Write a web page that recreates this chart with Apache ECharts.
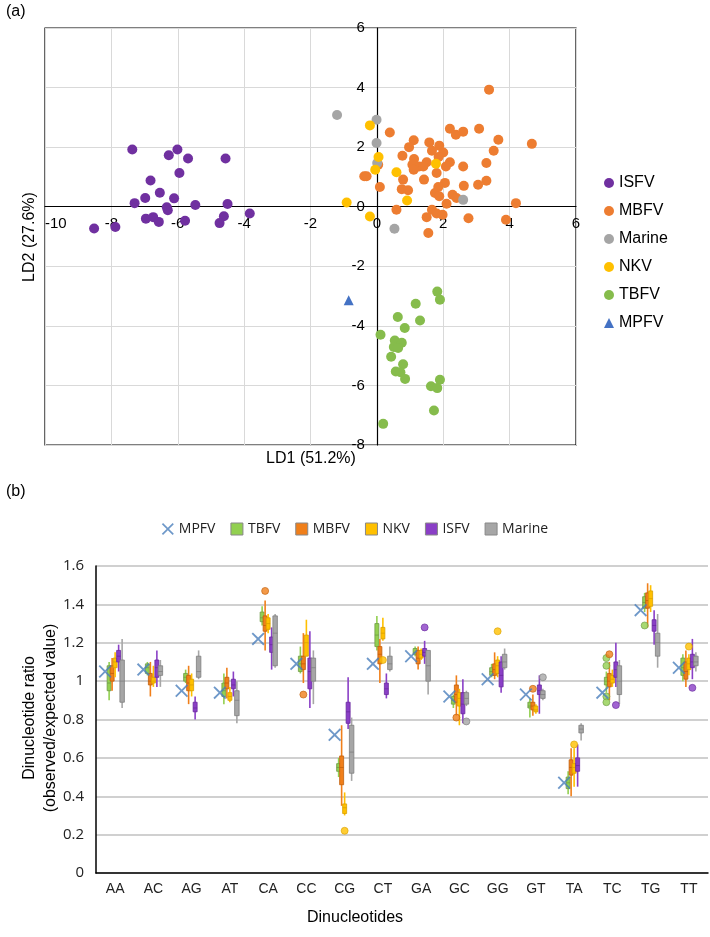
<!DOCTYPE html>
<html><head><meta charset="utf-8">
<script src="https://cdn.jsdelivr.net/npm/echarts@6/dist/echarts.min.js"></script>
<style>
body{margin:0;background:#fff;width:710px;height:937px;overflow:hidden}
#a{position:absolute;left:0;top:0;width:710px;height:480px}
#b{position:absolute;left:0;top:480px;width:710px;height:457px}
</style></head><body><div id="a"></div><div id="b"></div>
<script>
// ---------- (a) LDA scatter data: [LD1, LD2] ----------
const isfvLD = [[-7.37,1.92],[-6.01,1.92],[-6.27,1.73],[-5.69,1.62],[-4.56,1.62],[-5.95,1.13],[-6.82,0.88],[-6.54,0.47],[-6.98,0.29],[-6.11,0.28],[-7.30,0.12],[-5.47,0.06],[-4.50,0.09],[-6.33,-0.02],[-6.30,-0.12],[-6.96,-0.40],[-6.74,-0.35],[-6.57,-0.51],[-5.78,-0.47],[-4.61,-0.32],[-4.74,-0.55],[-3.83,-0.23],[-8.52,-0.73],[-7.88,-0.68]];
const mbfvLD = [[3.38,3.93],[0.39,2.49],[2.20,2.62],[2.38,2.42],[2.60,2.52],[3.08,2.62],[3.66,2.25],[4.67,2.11],[1.11,2.23],[0.97,2.00],[1.58,2.16],[1.88,2.05],[1.66,1.88],[2.00,1.82],[3.52,1.88],[0.77,1.71],[1.12,1.60],[1.86,1.67],[2.20,1.49],[1.50,1.49],[1.07,1.41],[1.27,1.35],[1.40,1.35],[1.11,1.24],[2.08,1.35],[2.60,1.35],[3.30,1.47],[1.80,1.13],[-0.38,1.02],[-0.31,1.02],[0.04,1.41],[0.79,0.91],[1.42,0.91],[2.05,0.80],[3.05,0.74],[3.30,0.87],[2.62,0.70],[0.09,0.66],[0.75,0.59],[0.94,0.55],[1.85,0.66],[1.75,0.46],[1.88,0.35],[2.28,0.40],[2.40,0.29],[2.10,0.10],[4.19,0.12],[0.59,-0.10],[1.66,-0.10],[1.80,-0.23],[1.98,-0.27],[1.50,-0.35],[2.76,-0.39],[3.89,-0.44],[1.55,-0.88]];
const marineLD = [[-1.20,3.08],[-0.01,2.92],[-0.01,2.14],[0.01,1.47],[2.60,0.23],[0.53,-0.74]];
const nkvLD = [[-0.21,2.73],[0.05,1.67],[-0.05,1.24],[0.59,1.16],[1.78,1.44],[0.91,0.21],[-0.91,0.14],[-0.21,-0.33]];
const tbfvLD = [[1.82,-2.85],[1.90,-3.12],[1.17,-3.26],[0.63,-3.70],[1.30,-3.82],[0.84,-4.07],[0.11,-4.30],[0.54,-4.49],[0.75,-4.57],[0.51,-4.71],[0.64,-4.74],[0.43,-5.04],[0.79,-5.29],[0.57,-5.53],[0.71,-5.56],[0.85,-5.78],[1.90,-5.81],[1.63,-6.03],[1.82,-6.09],[1.72,-6.84],[0.19,-7.29]];
const mpfvLD = [[-0.85,-3.14]];

// ---------- (b) dinucleotide ratio data ----------
const categories = ['AA','AC','AG','AT','CA','CC','CG','CT','GA','GC','GG','GT','TA','TC','TG','TT'];
const mpfvRatio = [1.05,1.06,0.95,0.94,1.22,1.09,0.72,1.09,1.13,0.92,1.01,0.93,0.47,0.94,1.37,1.07];
// [min, q1, median, q3, max]
const tbfvBox = [[0.90,0.95,0.99,1.08,1.10],[1.03,1.04,1.07,1.09,1.10],[0.99,1.00,1.02,1.04,1.06],[0.88,0.92,0.95,0.99,1.04],[1.29,1.31,1.33,1.36,1.39],[1.04,1.05,1.09,1.13,1.18],[0.50,0.53,0.55,0.57,0.60],[1.16,1.18,1.24,1.30,1.34],[1.13,1.14,1.15,1.17,1.18],[0.86,0.88,0.90,0.92,0.93],[1.02,1.03,1.05,1.07,1.09],[0.81,0.86,0.87,0.89,0.91],[0.41,0.44,0.47,0.50,0.53],[0.94,0.98,1.00,1.02,1.05],[1.36,1.38,1.41,1.44,1.46],[1.00,1.03,1.07,1.12,1.14]];
const mbfvBox = [[0.95,1.00,1.04,1.08,1.12],[0.92,0.98,1.00,1.04,1.10],[0.88,0.95,0.99,1.03,1.08],[0.91,0.96,0.99,1.02,1.07],[1.16,1.26,1.29,1.34,1.42],[0.99,1.06,1.09,1.13,1.25],[0.35,0.46,0.55,0.61,0.77],[0.99,1.09,1.14,1.18,1.22],[1.06,1.09,1.12,1.16,1.18],[0.82,0.89,0.93,0.98,1.03],[1.01,1.03,1.06,1.09,1.15],[0.82,0.85,0.87,0.89,0.93],[0.40,0.51,0.55,0.59,0.65],[0.90,0.97,1.00,1.04,1.10],[1.28,1.38,1.42,1.46,1.51],[0.97,1.01,1.05,1.10,1.16]];
const nkvBox = [[1.02,1.07,1.10,1.12,1.15],[0.97,0.99,1.00,1.02,1.08],[0.92,0.95,0.98,1.01,1.04],[0.89,0.90,0.92,0.94,0.97],[1.25,1.27,1.30,1.33,1.35],[1.13,1.13,1.20,1.24,1.32],[0.30,0.31,0.34,0.36,0.42],[1.21,1.22,1.25,1.28,1.33],[1.11,1.12,1.14,1.16,1.17],[0.77,0.87,0.91,0.94,0.96],[1.02,1.04,1.08,1.11,1.13],[0.83,0.84,0.85,0.87,0.88],[0.45,0.52,0.55,0.57,0.65],[0.97,0.99,1.01,1.03,1.06],[1.36,1.39,1.43,1.47,1.50],[1.03,1.06,1.09,1.12,1.14]];
const isfvBox = [[1.05,1.10,1.13,1.16,1.19],[0.97,1.02,1.07,1.11,1.16],[0.80,0.84,0.86,0.89,0.92],[0.92,0.96,0.98,1.01,1.05],[1.06,1.15,1.19,1.23,1.28],[0.86,0.96,1.05,1.12,1.26],[0.75,0.78,0.84,0.89,1.02],[0.91,0.93,0.96,0.99,1.04],[1.09,1.13,1.15,1.17,1.21],[0.78,0.83,0.88,0.94,1.01],[0.94,0.97,1.03,1.10,1.13],[0.83,0.93,0.95,0.98,1.03],[0.45,0.53,0.56,0.60,0.67],[0.97,1.02,1.06,1.10,1.20],[1.19,1.26,1.29,1.32,1.37],[1.01,1.07,1.10,1.14,1.22]];
const marineBox = [[0.86,0.89,1.00,1.11,1.22],[0.97,1.03,1.05,1.08,1.11],[1.01,1.02,1.05,1.13,1.16],[0.78,0.82,0.90,0.95,1.00],[1.07,1.08,1.25,1.34,1.35],[0.88,1.00,1.07,1.12,1.16],[0.48,0.52,0.63,0.77,0.81],[1.05,1.06,1.09,1.13,1.18],[0.93,1.00,1.08,1.16,1.16],[0.87,0.88,0.91,0.94,0.95],[1.06,1.07,1.10,1.14,1.17],[0.90,0.91,0.93,0.95,0.96],[0.69,0.73,0.75,0.77,0.78],[0.88,0.93,1.00,1.08,1.11],[1.07,1.13,1.20,1.25,1.35],[1.05,1.08,1.10,1.13,1.15]];
// outliers: [category, value]
const tbfvOut = [['TC',1.12],['TC',1.08],['TC',0.92],['TC',0.89],['TG',1.29]];
const mbfvOut = [['CA',1.47],['CC',0.93],['GC',0.81],['GT',0.96],['TC',1.14]];
const nkvOut = [['CG',0.22],['CT',1.11],['GG',1.26],['TA',0.67],['TT',1.18]];
const isfvOut = [['GA',1.28],['TC',0.875],['TT',0.965]];
const marineOut = [['GC',0.79],['GT',1.02]];

// ---------- chart (a) ----------
const sansA = 'Liberation Sans, Arial, sans-serif';
const chartA = echarts.init(document.getElementById('a'), null, {renderer:'canvas'});
const gA = {left:45, top:28, width:531, height:417};
const xMinA = -10, xMaxA = 6, yMinA = -8, yMaxA = 6;
function sc(name, data, color, symbol){
  return {name, type:'scatter', data, symbol: symbol||'circle', symbolSize:10,
    itemStyle:{color, opacity:1}, emphasis:{disabled:true}};
}
chartA.setOption({
  animation:false,
  backgroundColor:'#fff',
  textStyle:{fontFamily:sansA},
  grid:{left:gA.left, top:gA.top, width:gA.width, height:gA.height, show:true, borderColor:'#000', borderWidth:1.2, backgroundColor:'transparent'},
  xAxis:{type:'value', min:xMinA, max:xMaxA, interval:2,
    offset: -gA.height*(0-yMinA)/(yMaxA-yMinA),
    axisLine:{onZero:false, lineStyle:{color:'#000', width:1.2}},
    axisTick:{show:false},
    axisLabel:{color:'#000', fontSize:15, margin:10, showMinLabel:true, showMaxLabel:true, alignMinLabel:'left'},
    splitLine:{show:true, lineStyle:{color:'#d9d9d9', width:1}}},
  yAxis:{type:'value', min:yMinA, max:yMaxA, interval:2,
    offset: -gA.width*(0-xMinA)/(xMaxA-xMinA),
    axisLine:{onZero:false, lineStyle:{color:'#000', width:1.2}},
    axisTick:{show:false},
    axisLabel:{color:'#000', fontSize:15, margin:12, showMinLabel:true, showMaxLabel:true},
    splitLine:{show:true, lineStyle:{color:'#d9d9d9', width:1}}},
  legend:{orient:'vertical', left:599, top:170, itemWidth:10, itemHeight:10, itemGap:12,
    textStyle:{fontSize:16, color:'#000', fontFamily:sansA},
    data:[{name:'ISFV',icon:'circle'},{name:'MBFV',icon:'circle'},{name:'Marine',icon:'circle'},{name:'NKV',icon:'circle'},{name:'TBFV',icon:'circle'},{name:'MPFV',icon:'triangle'}]},
  graphic:[
    {type:'text', left:6, top:4, style:{text:'(a)', font:'16px '+sansA, fill:'#000'}},
    {type:'text', x:30, y:237, rotation:Math.PI/2, style:{text:'LD2 (27.6%)', font:'16px '+sansA, fill:'#000', align:'center', verticalAlign:'middle'}},
    {type:'text', x:311, y:459, style:{text:'LD1 (51.2%)', font:'16px '+sansA, fill:'#000', align:'center', verticalAlign:'middle'}}
  ],
  series:[
    sc('ISFV', isfvLD, '#7030A0'),
    sc('MBFV', mbfvLD, '#ED7D31'),
    sc('Marine', marineLD, '#A5A5A5'),
    sc('NKV', nkvLD, '#FFC000'),
    sc('TBFV', tbfvLD, '#86BC4C'),
    sc('MPFV', mpfvLD, '#4472C4', 'triangle')
  ]
});

// ---------- chart (b) ----------
const sansB = 'Open Sans, Noto Sans, sans-serif';
const xPath = 'path://M0,1.2L1.2,0L6,4.8L10.8,0L12,1.2L7.2,6L12,10.8L10.8,12L6,7.2L1.2,12L0,10.8L4.8,6Z';
const chartB = echarts.init(document.getElementById('b'), null, {renderer:'canvas'});
function boxSeries(name, boxes, offset, w, fill, stroke){
  return {name, type:'custom', z:3,
    itemStyle:{color:fill, borderColor:stroke},
    data: boxes.map((b,i)=>[categories[i], b[0], b[1], b[2], b[3], b[4]]),
    encode:{x:0, y:[1,2,3,4,5]},
    renderItem:function(params, api){
      const ci = api.value(0);
      const x = api.coord([ci, 0])[0] + offset;
      const y0 = api.coord([ci, api.value(1)])[1];
      const y1 = api.coord([ci, api.value(2)])[1];
      const y2 = api.coord([ci, api.value(3)])[1];
      const y3 = api.coord([ci, api.value(4)])[1];
      const y4 = api.coord([ci, api.value(5)])[1];
      return {type:'group', children:[
        {type:'line', shape:{x1:x, y1:y4, x2:x, y2:y0}, style:{stroke:fill, lineWidth:1.6}},
        {type:'rect', shape:{x:x-w/2, y:y3, width:w, height:Math.max(1,y1-y3)}, style:{fill:fill, stroke:stroke, lineWidth:0.8}},
        {type:'line', shape:{x1:x-w/2, y1:y2, x2:x+w/2, y2:y2}, style:{stroke:stroke, lineWidth:0.8}}
      ]};
    }
  };
}
function outSeries(name, pts, offset, fill, stroke){
  return {name, type:'scatter', z:4, data:pts, symbol:'circle', symbolSize:7, symbolOffset:[offset,0],
    itemStyle:{color:fill, borderColor:stroke, borderWidth:0.8}, emphasis:{disabled:true}};
}
const colTB = ['#92D050','#6E9A48'], colMB = ['#F07F1A','#C0600C'], colNK = ['#FFC000','#D9A000'], colIS = ['#8A3FC6','#6A2A9E'], colMA = ['#A6A6A6','#7F7F7F'];
chartB.setOption({
  animation:false,
  backgroundColor:'#fff',
  textStyle:{fontFamily:sansB},
  grid:{left:96, top:86, right:2, height:307},
  xAxis:{type:'category', data:categories, boundaryGap:true,
    axisLine:{lineStyle:{color:'#000', width:1.5}},
    axisTick:{show:false},
    axisLabel:{color:'#222', fontSize:14, margin:9, fontFamily:'Liberation Sans Narrow, Liberation Sans, sans-serif'},
    splitLine:{show:false}},
  yAxis:{type:'value', min:0, max:1.6, interval:0.2,
    axisLine:{show:true, lineStyle:{color:'#000', width:1.5}},
    axisTick:{show:false},
    axisLabel:{color:'#222', fontSize:15, margin:12},
    splitLine:{show:true, lineStyle:{color:'#d0d0d0', width:2}}},
  legend:{left:'center', top:37, itemWidth:12, itemHeight:12, itemGap:15,
    textStyle:{fontSize:14, color:'#222', fontFamily:sansB},
    data:[
      {name:'MPFV', icon:xPath, itemStyle:{color:'#4A7EBB'}},
      {name:'TBFV', icon:'rect', itemStyle:{color:colTB[0], borderColor:'#888', borderWidth:1}},
      {name:'MBFV', icon:'rect', itemStyle:{color:colMB[0], borderColor:'#888', borderWidth:1}},
      {name:'NKV', icon:'rect', itemStyle:{color:colNK[0], borderColor:'#888', borderWidth:1}},
      {name:'ISFV', icon:'rect', itemStyle:{color:colIS[0], borderColor:'#888', borderWidth:1}},
      {name:'Marine', icon:'rect', itemStyle:{color:colMA[0], borderColor:'#888', borderWidth:1}}
    ]},
  graphic:[
    {type:'text', left:6, top:4, style:{text:'(b)', font:'16px '+sansA, fill:'#000'}},
    {type:'text', x:40, y:238, rotation:Math.PI/2, style:{text:'Dinucleotide ratio\n(observed/expected value)', font:'16px '+sansA, fill:'#000', align:'center', verticalAlign:'middle', lineHeight:21}},
    {type:'text', x:355, y:438, style:{text:'Dinucleotides', font:'16px '+sansA, fill:'#000', align:'center', verticalAlign:'middle'}}
  ],
  series:[
    boxSeries('TBFV', tbfvBox, -6, 4, colTB[0], colTB[1]),
    boxSeries('MBFV', mbfvBox, -3, 4, colMB[0], colMB[1]),
    boxSeries('NKV', nkvBox, 0, 4, colNK[0], colNK[1]),
    boxSeries('ISFV', isfvBox, 3.5, 4, colIS[0], colIS[1]),
    boxSeries('Marine', marineBox, 7, 4.5, colMA[0], colMA[1]),
    outSeries('TBFV', tbfvOut, -6, colTB[0], colTB[1]),
    outSeries('MBFV', mbfvOut, -3, colMB[0], colMB[1]),
    outSeries('NKV', nkvOut, 0, colNK[0], colNK[1]),
    outSeries('ISFV', isfvOut, 3.5, colIS[0], colIS[1]),
    outSeries('Marine', marineOut, 7, colMA[0], colMA[1]),
    {name:'MPFV', type:'scatter', z:5, data:mpfvRatio, symbol:xPath, symbolSize:13, symbolOffset:[-10,0],
      itemStyle:{color:'#4A7EBB'}, emphasis:{disabled:true}}
  ]
});
</script></body></html>
